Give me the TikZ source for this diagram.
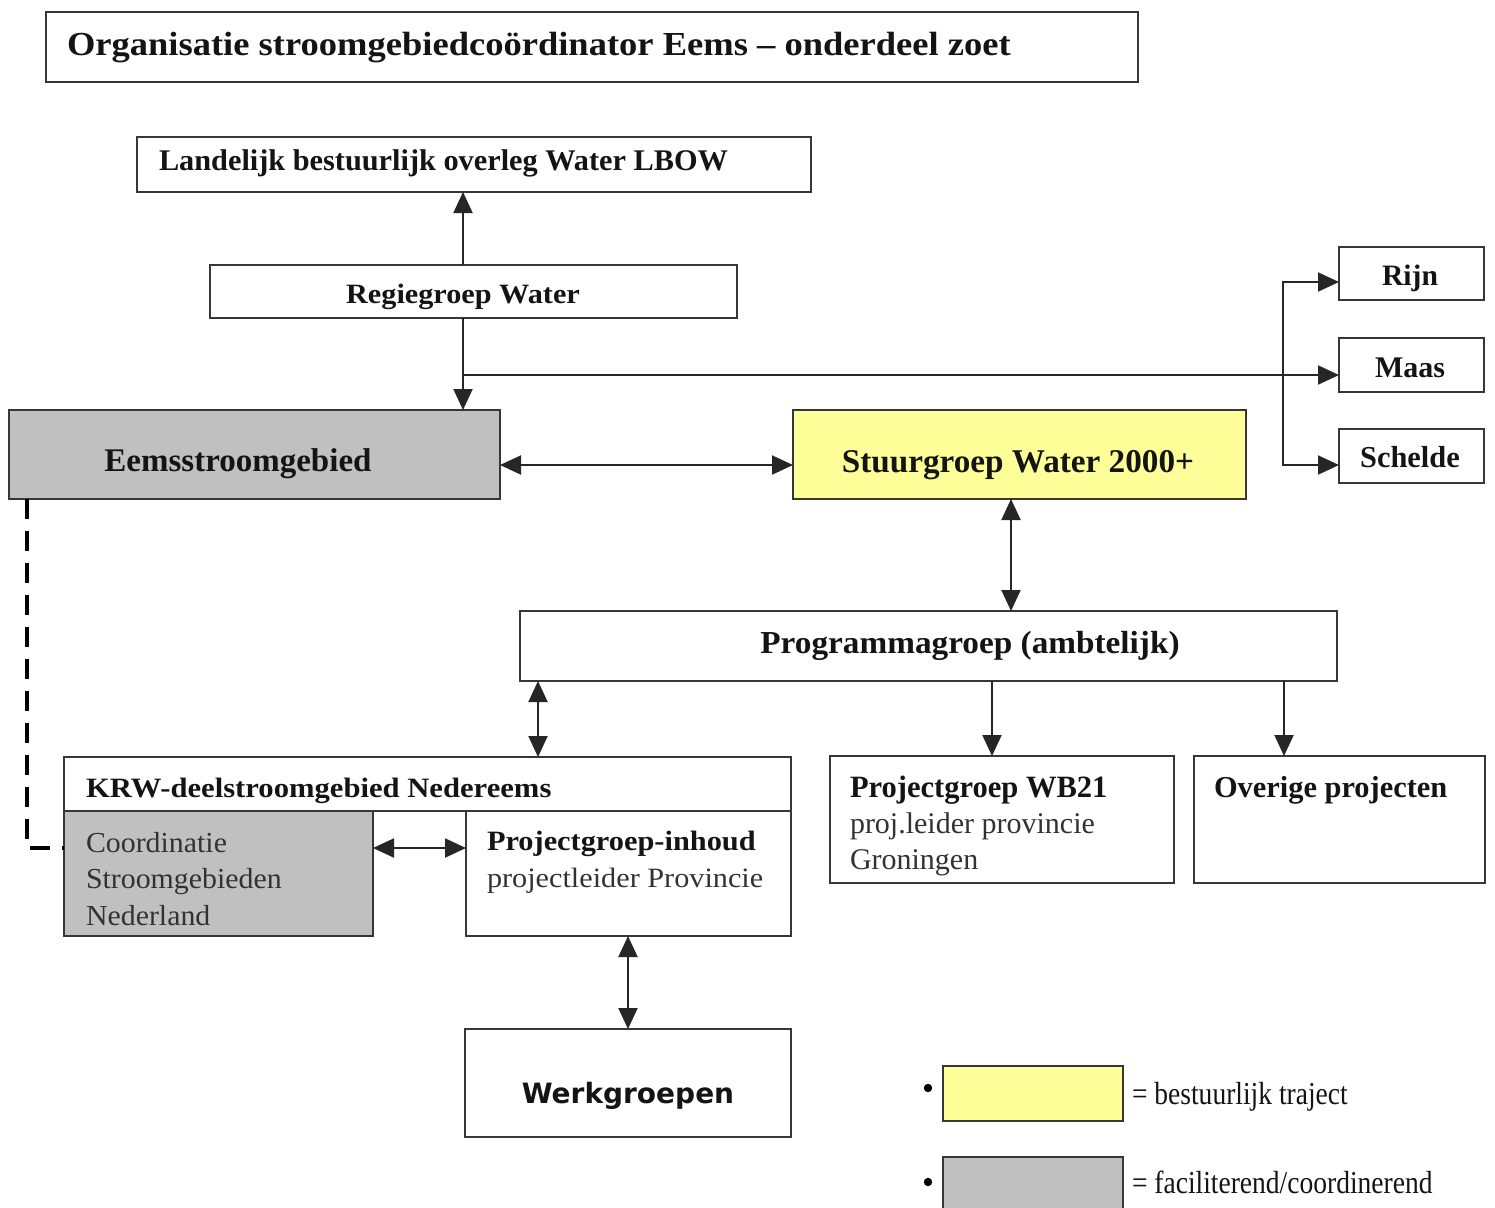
\documentclass[tikz,border=0pt]{standalone}
\usepackage{fontspec}
\setmainfont{Liberation Serif}
\newfontfamily\wsans{DejaVu Sans}
\usepackage{graphicx}
\usetikzlibrary{fit,arrows.meta}
\definecolor{bline}{RGB}{55,55,55}
\definecolor{gfill}{RGB}{192,192,192}
\definecolor{yfill}{RGB}{255,255,153}
\definecolor{ink}{RGB}{20,20,20}
\definecolor{inkr}{RGB}{50,50,50}
\newcommand\sx[3]{\scalebox{#2}[1]{\fontsize{#1}{#1}\selectfont #3}}
\begin{document}
\begin{tikzpicture}[x=0.5pt,y=-0.5pt,
  bx/.style={draw=bline, line width=1.2pt, inner sep=0pt, outer sep=0pt},
  lbl/.style={inner sep=0pt, outer sep=0pt, text=ink, font=\bfseries},
  lblr/.style={inner sep=0pt, outer sep=0pt, text=inkr},
  arr/.style={draw=black!85, line width=1pt, -{Triangle[length=10.5pt,width=9.5pt]}},
  dbl/.style={draw=black!85, line width=1pt, {Triangle[length=10.5pt,width=9.5pt]}-{Triangle[length=10.5pt,width=9.5pt]}},
  dsh/.style={draw=black, line width=1.6pt, dash pattern=on 10pt off 6pt},
  dot/.style={circle, fill=black, inner sep=0pt, minimum size=4.2pt}]
\useasboundingbox (0,0) rectangle (1495,1207);

% title
\node[bx, fit={(46,12)(1138,82)}] (title) {};
\node[lbl, anchor=base west] (titlet) at (67,55) {\sx{16.8}{1.087}{Organisatie stroomgebiedcoördinator Eems – onderdeel zoet}};

% top boxes
\node[bx, fit={(137,137)(811,192)}] (lbow) {};
\node[lbl, anchor=base west] (lbowt) at (159,170) {\sx{15}{1.01}{Landelijk bestuurlijk overleg Water LBOW}};
\node[bx, fit={(210,265)(737,318)}] (regie) {};
\node[lbl, anchor=base] (regiet) at (463,303) {\sx{14}{1.08}{Regiegroep Water}};

\node[bx, fill=gfill, fit={(9,410)(500,499)}] (eems) {};
\node[lbl, anchor=base] (eemst) at (238,471) {\sx{16.5}{1}{Eemsstroomgebied}};
\node[bx, fill=yfill, fit={(793,410)(1246,499)}] (stuur) {};
\node[lbl, anchor=base] (stuurt) at (1018,472) {\sx{16.6}{1}{Stuurgroep Water 2000+}};

\node[bx, fit={(1339,247)(1484,300)}] (rijn) {};
\node[lbl, anchor=base] (rijnt) at (1410,285) {\sx{14.8}{1}{Rijn}};
\node[bx, fit={(1339,338)(1484,392)}] (maas) {};
\node[lbl, anchor=base] (maast) at (1410,377) {\sx{15}{1}{Maas}};
\node[bx, fit={(1339,429)(1484,483)}] (schelde) {};
\node[lbl, anchor=base] (scheldet) at (1410,467) {\sx{15.2}{1}{Schelde}};

\node[bx, fit={(520,611)(1337,681)}] (prog) {};
\node[lbl, anchor=base] (progt) at (970,653) {\sx{16}{1.04}{Programmagroep (ambtelijk)}};

% KRW group
\node[bx, fit={(64,757)(791,811)}] (krw) {};
\node[lbl, anchor=base west] (krwt) at (86,797) {\sx{14}{1.094}{KRW-deelstroomgebied Nedereems}};
\node[bx, fill=gfill, fit={(64,811)(373,936)}] (coord) {};
\node[lblr, anchor=base west] (coordt1) at (86,852) {\sx{14.5}{1.03}{Coordinatie}};
\node[lblr, anchor=base west] (coordt2) at (86,888) {\sx{14.5}{1.03}{Stroomgebieden}};
\node[lblr, anchor=base west] (coordt3) at (86,925) {\sx{14.5}{1.03}{Nederland}};
\node[bx, fit={(466,811)(791,936)}] (projinh) {};
\node[lbl, anchor=base west] (projinht1) at (487,850) {\sx{14}{1.084}{Projectgroep-inhoud}};
\node[lblr, anchor=base west] (projinht2) at (487,887) {\sx{14}{1.08}{projectleider Provincie}};

\node[bx, fit={(830,756)(1174,883)}] (wb) {};
\node[lbl, anchor=base west] (wbt1) at (850,797) {\sx{15.5}{0.985}{Projectgroep WB21}};
\node[lblr, anchor=base west] (wbt2) at (850,833) {\sx{15}{1}{proj.leider provincie}};
\node[lblr, anchor=base west] (wbt3) at (850,869) {\sx{15}{1}{Groningen}};
\node[bx, fit={(1194,756)(1485,883)}] (over) {};
\node[lbl, anchor=base west] (overt) at (1214,797) {\sx{15.2}{1}{Overige projecten}};

\node[bx, fit={(465,1029)(791,1137)}] (werk) {};
\node[lbl, anchor=base, font=\wsans\bfseries] (werkt) at (628,1103) {\sx{14}{1}{Werkgroepen}};

% legend
\node[dot] (dot1) at (928,1088) {};
\node[bx, fill=yfill, fit={(943,1066)(1123,1121)}] (leg1) {};
\node[lblr, text=ink, anchor=base west] (leg1t) at (1132,1104) {\sx{16}{0.86}{= bestuurlijk traject}};
\node[dot] (dot2) at (928,1182) {};
\node[bx, fill=gfill, fit={(943,1157)(1123,1216)}] (leg2) {};
\node[lblr, text=ink, anchor=base west] (leg2t) at (1132,1193) {\sx{16}{0.86}{= faciliterend/coordinerend}};

% helper coordinates
\coordinate (xa) at (463,0);
\coordinate (ym) at (0,375);
\coordinate (yr) at (0,282);
\coordinate (ys) at (0,465);
\coordinate (br) at (1283,0);
\coordinate (ye) at (0,465);
\coordinate (xs) at (1011,0);
\coordinate (xk) at (538,0);
\coordinate (xw) at (992,0);
\coordinate (xo) at (1284,0);
\coordinate (yc) at (0,848);
\coordinate (xg) at (628,0);
\coordinate (xd) at (27,0);

% connectors
\draw[arr] (regie.north -| xa) -- (lbow.south -| xa);
\draw[arr] (regie.south -| xa) -- (eems.north -| xa);
\draw[arr] (xa |- ym) -- (maas.west |- ym);
\draw[arr] (br |- ym) |- (rijn.west |- yr);
\draw[arr] (br |- ym) |- (schelde.west |- ys);
\draw[dbl] (eems.east |- ye) -- (stuur.west |- ye);
\draw[dbl] (stuur.south -| xs) -- (prog.north -| xs);
\draw[dbl] (prog.south -| xk) -- (krw.north -| xk);
\draw[arr] (prog.south -| xw) -- (wb.north -| xw);
\draw[arr] (prog.south -| xo) -- (over.north -| xo);
\draw[dbl] (coord.east |- yc) -- (projinh.west |- yc);
\draw[dbl] (projinh.south -| xg) -- (werk.north -| xg);
\draw[dsh] (eems.south -| xd) |- (coord.west |- yc);
\end{tikzpicture}
\end{document}
